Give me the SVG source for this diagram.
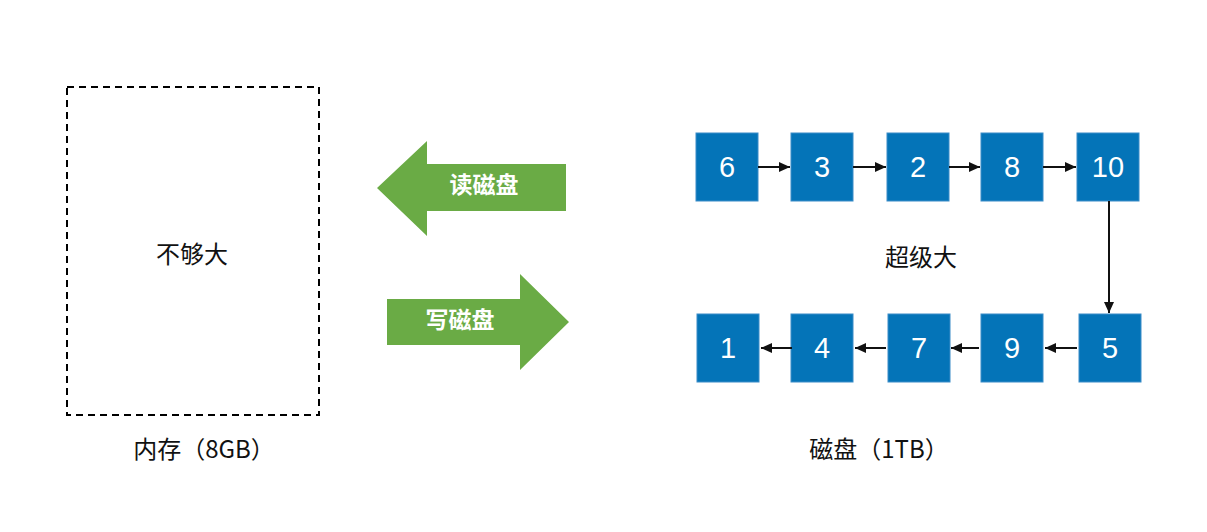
<svg xmlns="http://www.w3.org/2000/svg" width="1207" height="532" viewBox="0 0 1207 532">
<style>
.box{fill:#0474b8;stroke:#3a8cc8;stroke-width:1}
.num{font-family:"Liberation Sans",Arial,sans-serif;font-size:29px;fill:#fff;text-anchor:middle;dominant-baseline:central}
.lbl{font-family:"Noto Sans CJK SC","Liberation Sans",sans-serif;font-size:24px;fill:#111;text-anchor:middle;dominant-baseline:central}
.glbl{font-family:"Noto Sans CJK SC","Liberation Sans",sans-serif;font-size:23px;font-weight:bold;fill:#fff;text-anchor:middle;dominant-baseline:central}
.conn{stroke:#111;stroke-width:2;fill:none;marker-end:url(#ah)}
.green{fill:#6aab45}
</style>
<defs>
<marker id="ah" markerWidth="12" markerHeight="12" refX="11" refY="6" orient="auto" markerUnits="userSpaceOnUse">
<path d="M0,1 L11,6 L0,11 z" fill="#111"/>
</marker>
</defs>
<rect width="1207" height="532" fill="#fff"/>
<g id="memory">
<rect x="67" y="87" width="252" height="328" fill="none" stroke="#000" stroke-width="2" stroke-dasharray="7 5"/>
<text class="lbl" x="192" y="252">不够大</text>
<text class="lbl" x="204" y="447">内存（8GB）</text>
</g>
<g id="read-arrow">
<path class="green" d="M377,188 L427,141 L427,164 L566,164 L566,211 L427,211 L427,236 Z"/>
<text class="glbl" x="484" y="183">读磁盘</text>
</g>
<g id="write-arrow">
<path class="green" d="M387,299 L520,299 L520,274 L569,322 L520,370 L520,345 L387,345 Z"/>
<text class="glbl" x="460" y="318">写磁盘</text>
</g>
<g id="disk-labels">
<text class="lbl" x="921" y="255">超级大</text>
<text class="lbl" x="879" y="447">磁盘（1TB）</text>
</g>
<g id="n6"><rect class="box" x="696" y="133" width="62" height="68"/><text class="num" x="727" y="167">6</text></g>
<g id="n3"><rect class="box" x="791" y="133" width="62" height="68"/><text class="num" x="822" y="167">3</text></g>
<g id="n2"><rect class="box" x="887" y="133" width="62" height="68"/><text class="num" x="918" y="167">2</text></g>
<g id="n8"><rect class="box" x="981" y="133" width="62" height="68"/><text class="num" x="1012" y="167">8</text></g>
<g id="n10"><rect class="box" x="1077" y="133" width="62" height="68"/><text class="num" x="1108" y="167">10</text></g>
<g id="n1"><rect class="box" x="697" y="314" width="62" height="68"/><text class="num" x="728" y="348">1</text></g>
<g id="n4"><rect class="box" x="791" y="314" width="62" height="68"/><text class="num" x="822" y="348">4</text></g>
<g id="n7"><rect class="box" x="888" y="314" width="62" height="68"/><text class="num" x="919" y="348">7</text></g>
<g id="n9"><rect class="box" x="981" y="314" width="62" height="68"/><text class="num" x="1012" y="348">9</text></g>
<g id="n5"><rect class="box" x="1079" y="314" width="62" height="68"/><text class="num" x="1110" y="348">5</text></g>
<g id="connectors">
<line class="conn" x1="758" y1="167" x2="790" y2="167"/>
<line class="conn" x1="853" y1="167" x2="886" y2="167"/>
<line class="conn" x1="949" y1="167" x2="980" y2="167"/>
<line class="conn" x1="1043" y1="167" x2="1076" y2="167"/>
<line class="conn" x1="1109" y1="201" x2="1109" y2="313"/>
<line class="conn" x1="1077" y1="348" x2="1045" y2="348"/>
<line class="conn" x1="979" y1="348" x2="951" y2="348"/>
<line class="conn" x1="886" y1="348" x2="855" y2="348"/>
<line class="conn" x1="792" y1="348" x2="761" y2="348"/>
</g>
</svg>
